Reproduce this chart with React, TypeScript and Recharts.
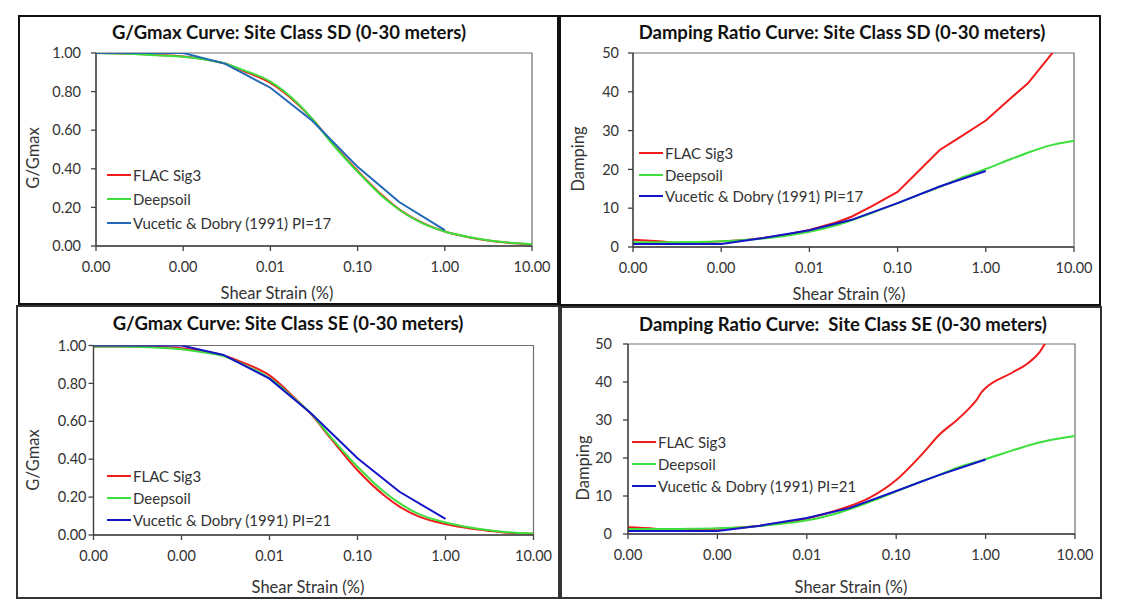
import React from "react";
import { LineChart, Line, XAxis, YAxis, ReferenceArea } from "recharts";

// shear strain (%) on a log axis
const STRAIN_TICKS = [0.0001, 0.001, 0.01, 0.1, 1, 10];
const GMAX_TICKS = [0, 0.2, 0.4, 0.6, 0.8, 1];
const DAMPING_TICKS = [0, 10, 20, 30, 40, 50];

const STRAIN = [
  0.0001, 0.0002, 0.0003, 0.0005, 0.001, 0.002, 0.003, 0.005, 0.01, 0.02, 0.03,
  0.05, 0.1, 0.2, 0.3, 0.5, 1, 2, 3, 5, 10,
];
const VD_STRAIN = [0.0001, 0.0003, 0.001, 0.003, 0.01, 0.03, 0.1, 0.3, 1];
const SE_FLAC_DAMP_STRAIN = [
  0.0001, 0.0002, 0.0003, 0.0005, 0.001, 0.002, 0.003, 0.005, 0.01, 0.02, 0.03,
  0.05, 0.1, 0.2, 0.3, 0.5, 0.7, 0.8, 0.9, 1, 2, 3, 4, 5, 10,
];

// G/Gmax - site class SD
const gSdFlac = [
  1.0, 0.998, 0.995, 0.99, 0.982, 0.963, 0.946, 0.905, 0.845, 0.74, 0.66, 0.54,
  0.39, 0.255, 0.19, 0.13, 0.075, 0.043, 0.03, 0.018, 0.008,
];
const gSdDeepsoil = [
  1.0, 0.997, 0.994, 0.988, 0.98, 0.962, 0.946, 0.91, 0.852, 0.745, 0.66, 0.535,
  0.385, 0.25, 0.188, 0.128, 0.075, 0.044, 0.031, 0.019, 0.009,
];
const gSdVd = [1.0, 1.0, 1.0, 0.945, 0.82, 0.65, 0.41, 0.228, 0.082];

// damping - site class SD
const dSdFlac = [
  1.9, 1.5, 1.1, 1.1, 1.45, 1.9, 2.3, 3.0, 4.4, 6.3, 7.8, 10.4, 14.2, 21.0, 25.0,
  28.2, 32.6, 38.7, 42.2, 48.4, 57,
];
const dSdDeepsoil = [
  1.2, 1.2, 1.25, 1.3, 1.5, 1.9, 2.2, 2.8, 3.9, 5.6, 6.9, 8.7, 11.3, 14.0, 15.5,
  17.6, 20.1, 22.8, 24.3, 26.0, 27.4,
];
const dSdVd = [0.8, 0.8, 0.8, 2.3, 4.3, 7.0, 11.3, 15.6, 19.6];

// G/Gmax - site class SE
const gSeFlac = [
  0.995, 0.995, 0.994, 0.992, 0.985, 0.965, 0.948, 0.91, 0.842, 0.716, 0.635,
  0.508, 0.342, 0.21, 0.15, 0.097, 0.058, 0.033, 0.023, 0.012, 0.006,
];
const gSeDeepsoil = [
  0.995, 0.995, 0.993, 0.99, 0.98, 0.96, 0.944, 0.9, 0.828, 0.712, 0.638, 0.515,
  0.36, 0.228, 0.168, 0.11, 0.066, 0.038, 0.026, 0.015, 0.008,
];
const gSeVd = [1.0, 1.0, 1.0, 0.95, 0.825, 0.64, 0.405, 0.228, 0.085];

// damping - site class SE
const dSeFlac = [
  1.75, 1.4, 1.1, 1.1, 1.4, 1.8, 2.2, 2.9, 4.1, 6.0, 7.3, 9.5, 14.2, 21.3, 26.0,
  30.4, 33.8, 35.4, 37.3, 38.4, 42.5, 45.0, 47.8, 51.5, 62,
];
const dSeDeepsoil = [
  1.3, 1.3, 1.3, 1.35, 1.5, 1.8, 2.1, 2.6, 3.6, 5.2, 6.5, 8.4, 11.2, 14.0, 15.5,
  17.6, 19.7, 22.0, 23.3, 24.6, 25.8,
];
const dSeVd = [0.8, 0.8, 0.8, 2.2, 4.2, 6.8, 11.3, 15.5, 19.6];

const RED = "#f21b1b";
const GREEN = "#3ddf3d";
const BLUE = "#1414c8";
const STEEL = "#2069b4";
const FONT = "Lato, 'Open Sans', sans-serif";
const AXIS = "#404040";

const pts = (xs: number[], ys: number[]) => xs.map((x, i) => ({ x, y: ys[i] }));

const MINOR_STRAIN: number[] = [];
for (let e = -4; e < 1; e++)
  for (let m = 2; m <= 9; m++) MINOR_STRAIN.push(Number((m * 10 ** e).toPrecision(3)));
const MINOR_GMAX = Array.from({ length: 26 }, (_, i) => +(i * 0.04).toFixed(2));
const MINOR_DAMPING = Array.from({ length: 26 }, (_, i) => i * 2);

type Series = { name: string; color: string; data: { x: number; y: number }[]; smooth?: boolean };

type PanelProps = {
  box: [number, number, number, number]; // left, top, right, bottom
  plot: [number, number, number, number];
  title: string;
  titlePos: [number, number];
  xTitlePos: [number, number];
  yTitle: string;
  yTitlePos: [number, number];
  yMax: number;
  yTicks: number[];
  yMinor: number[];
  yFmt: (v: number) => string;
  yTickMargin: number;
  series: Series[];
  legend: { x: number; y: number; gap: number };
  borderColor: string;
};

function Panel(p: PanelProps) {
  const [bl, bt, br, bb] = p.box;
  const [px0, py0, px1, py1] = p.plot;
  const w = br - bl;
  const h = bb - bt;
  const tick = { fill: "#333", fontSize: 14.5, fontFamily: FONT };
  return (
    <>
      <div style={{ position: "absolute", left: bl, top: bt, width: w, height: h }}>
        <LineChart
          width={w}
          height={h}
          margin={{ top: py0 - bt, right: br - px1, left: 0, bottom: 0 }}
        >
          <XAxis
            xAxisId="x"
            dataKey="x"
            type="number"
            scale="log"
            domain={[0.0001, 10]}
            ticks={STRAIN_TICKS}
            interval={0}
            allowDataOverflow
            tickFormatter={(v: number) => v.toFixed(2)}
            height={bb - py1}
            tickSize={5}
            tickMargin={11}
            stroke={AXIS}
            strokeWidth={1.3}
            tick={tick}
          />
          <XAxis
            xAxisId="xm"
            type="number"
            scale="log"
            domain={[0.0001, 10]}
            ticks={MINOR_STRAIN}
            interval={0}
            allowDataOverflow
            tickFormatter={() => ""}
            height={0}
            tickSize={3}
            axisLine={false}
            stroke={AXIS}
          />
          <YAxis
            yAxisId="y"
            type="number"
            domain={[0, p.yMax]}
            ticks={p.yTicks}
            interval={0}
            allowDataOverflow
            tickFormatter={p.yFmt}
            width={px0 - bl}
            tickSize={5}
            tickMargin={p.yTickMargin}
            stroke={AXIS}
            strokeWidth={1.3}
            tick={tick}
          />
          <YAxis
            yAxisId="ym"
            type="number"
            domain={[0, p.yMax]}
            ticks={p.yMinor}
            interval={0}
            allowDataOverflow
            tickFormatter={() => ""}
            width={0}
            tickSize={4}
            axisLine={false}
            stroke={AXIS}
          />
          <ReferenceArea
            xAxisId="x"
            yAxisId="y"
            x1={0.0001}
            x2={10}
            y1={0}
            y2={p.yMax}
            fill="none"
            stroke="#6f6f6f"
            strokeWidth={1.2}
            ifOverflow="visible"
          />
          {p.series.map((s) => (
            <Line
              key={s.name}
              xAxisId="x"
              yAxisId="y"
              data={s.data}
              dataKey="y"
              name={s.name}
              type={s.smooth ? "monotone" : "linear"}
              stroke={s.color}
              strokeWidth={2}
              dot={false}
              activeDot={false}
              isAnimationActive={false}
            />
          ))}
        </LineChart>
      </div>
      <div
        style={{
          position: "absolute",
          left: bl,
          top: bt,
          width: w,
          height: h,
          boxSizing: "border-box",
          border: `2px solid ${p.borderColor}`,
          pointerEvents: "none",
        }}
      />
      <div
        style={{
          position: "absolute",
          left: p.titlePos[0],
          top: p.titlePos[1],
          transform: "translate(-50%, -50%)",
          whiteSpace: "pre",
          fontFamily: FONT,
          fontWeight: 700,
          fontSize: 18.5,
          color: "#111",
        }}
      >
        {p.title}
      </div>
      <div
        style={{
          position: "absolute",
          left: p.xTitlePos[0],
          top: p.xTitlePos[1],
          transform: "translate(-50%, -50%)",
          whiteSpace: "nowrap",
          fontFamily: FONT,
          fontSize: 16.5,
          color: "#333",
        }}
      >
        Shear Strain (%)
      </div>
      <div
        style={{
          position: "absolute",
          left: p.yTitlePos[0],
          top: p.yTitlePos[1],
          transform: "translate(-50%, -50%) rotate(-90deg)",
          whiteSpace: "nowrap",
          fontFamily: FONT,
          fontSize: 16.5,
          color: "#333",
        }}
      >
        {p.yTitle}
      </div>
      {p.series.map((s, i) => (
        <div
          key={s.name}
          style={{
            position: "absolute",
            left: p.legend.x,
            top: p.legend.y + i * p.legend.gap,
            transform: "translateY(-50%)",
            display: "flex",
            alignItems: "center",
            whiteSpace: "nowrap",
            fontFamily: FONT,
            fontSize: 15,
            color: "#333",
          }}
        >
          <span style={{ width: 24, height: 2, background: s.color, marginRight: 2 }} />
          {s.name}
        </div>
      ))}
    </>
  );
}

const fmt2 = (v: number) => v.toFixed(2);
const fmt0 = (v: number) => String(v);

export default function App() {
  return (
    <div
      style={{
        position: "absolute",
        left: 0,
        top: 0,
        width: 1122,
        height: 616,
        background: "#fff",
        overflow: "hidden",
      }}
    >
      <Panel
        box={[18, 15, 559, 305]}
        plot={[96, 53, 532, 246]}
        title="G/Gmax Curve: Site Class SD (0-30 meters)"
        titlePos={[289, 32]}
        xTitlePos={[277, 293]}
        yTitle="G/Gmax"
        yTitlePos={[33, 158]}
        yMax={1}
        yTicks={GMAX_TICKS}
        yMinor={MINOR_GMAX}
        yFmt={fmt2}
        yTickMargin={10}
        series={[
          { name: "FLAC Sig3", color: RED, data: pts(STRAIN, gSdFlac), smooth: true },
          { name: "Deepsoil", color: GREEN, data: pts(STRAIN, gSdDeepsoil), smooth: true },
          { name: "Vucetic & Dobry (1991) PI=17", color: STEEL, data: pts(VD_STRAIN, gSdVd) },
        ]}
        legend={{ x: 107, y: 175, gap: 24 }}
        borderColor="#111"
      />
      <Panel
        box={[559, 15, 1101, 306]}
        plot={[633, 53, 1074, 247]}
        title="Damping Ratio Curve: Site Class SD (0-30 meters)"
        titlePos={[842, 32]}
        xTitlePos={[849, 294]}
        yTitle="Damping"
        yTitlePos={[578, 159]}
        yMax={50}
        yTicks={DAMPING_TICKS}
        yMinor={MINOR_DAMPING}
        yFmt={fmt0}
        yTickMargin={9}
        series={[
          { name: "FLAC Sig3", color: RED, data: pts(STRAIN, dSdFlac) },
          { name: "Deepsoil", color: GREEN, data: pts(STRAIN, dSdDeepsoil), smooth: true },
          { name: "Vucetic & Dobry (1991) PI=17", color: BLUE, data: pts(VD_STRAIN, dSdVd) },
        ]}
        legend={{ x: 639, y: 153, gap: 21.5 }}
        borderColor="#111"
      />
      <Panel
        box={[16, 305, 560, 599]}
        plot={[93.5, 345.5, 533.5, 535]}
        title="G/Gmax Curve: Site Class SE (0-30 meters)"
        titlePos={[288, 323]}
        xTitlePos={[308, 587]}
        yTitle="G/Gmax"
        yTitlePos={[33, 460]}
        yMax={1}
        yTicks={GMAX_TICKS}
        yMinor={MINOR_GMAX}
        yFmt={fmt2}
        yTickMargin={2}
        series={[
          { name: "FLAC Sig3", color: RED, data: pts(STRAIN, gSeFlac), smooth: true },
          { name: "Deepsoil", color: GREEN, data: pts(STRAIN, gSeDeepsoil), smooth: true },
          { name: "Vucetic & Dobry (1991) PI=21", color: BLUE, data: pts(VD_STRAIN, gSeVd) },
        ]}
        legend={{ x: 107, y: 476, gap: 22 }}
        borderColor="#333"
      />
      <Panel
        box={[560, 306, 1102, 599]}
        plot={[628, 344, 1075, 534]}
        title="Damping Ratio Curve:  Site Class SE (0-30 meters)"
        titlePos={[843, 324]}
        xTitlePos={[851, 587]}
        yTitle="Damping"
        yTitlePos={[583, 468]}
        yMax={50}
        yTicks={DAMPING_TICKS}
        yMinor={MINOR_DAMPING}
        yFmt={fmt0}
        yTickMargin={11}
        series={[
          { name: "FLAC Sig3", color: RED, data: pts(SE_FLAC_DAMP_STRAIN, dSeFlac), smooth: true },
          { name: "Deepsoil", color: GREEN, data: pts(STRAIN, dSeDeepsoil), smooth: true },
          { name: "Vucetic & Dobry (1991) PI=21", color: BLUE, data: pts(VD_STRAIN, dSeVd) },
        ]}
        legend={{ x: 632, y: 442, gap: 22 }}
        borderColor="#333"
      />
    </div>
  );
}
